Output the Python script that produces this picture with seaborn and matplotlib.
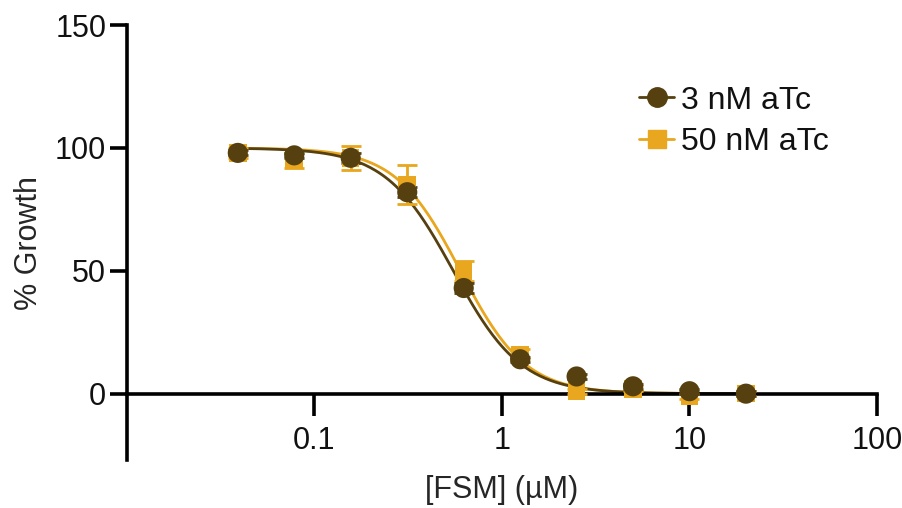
import numpy as np
import pandas as pd
import matplotlib
matplotlib.use("Agg")
import matplotlib.pyplot as plt
from matplotlib.lines import Line2D
import seaborn as sns

# FSM concentrations (uM)
conc = [0.039, 0.078, 0.156, 0.3125, 0.625, 1.25, 2.5, 5, 10, 20]

# % growth, mean and error
growth_3nm = [98, 97, 96, 82, 43, 14, 7, 3, 1, 0]
err_3nm = [1, 1, 2, 2, 2, 1, 1, 1, 1, 1]
growth_50nm = [98, 95, 96, 85, 50, 16, 1, 2, -1, 0]
err_50nm = [2, 3, 5, 8, 4, 2, 1, 1, 1, 1]

# dose-response fit parameters (top, bottom, IC50, hill)
fit_3nm = [100, 0, 0.55, 2.4]
fit_50nm = [100, 0, 0.60, 2.5]

labels = ["3 nM aTc", "50 nM aTc"]
brown = "#56400f"
orange = "#e8a71e"

sns.set_theme(style="white")
plt.rcParams["font.family"] = ["Liberation Sans", "DejaVu Sans"]
plt.rcParams["text.color"] = "#111111"


def fit_curve(params):
    top, bottom, ic50, hill = params
    xs = np.logspace(np.log10(conc[0]), np.log10(conc[-1]), 300)
    ys = bottom + (top - bottom) / (1 + (xs / ic50) ** hill)
    return pd.DataFrame({"x": xs, "y": ys})


fig = plt.figure(figsize=(9.03, 5.08), dpi=100)
ax = fig.add_axes([0.1406, 0.0945, 0.8306, 0.856])

curve50 = fit_curve(fit_50nm)
curve3 = fit_curve(fit_3nm)
sns.lineplot(data=curve50, x="x", y="y", color=orange, lw=2.0, ax=ax, zorder=2)
sns.lineplot(data=curve3, x="x", y="y", color=brown, lw=2.0, ax=ax, zorder=2)

ax.errorbar(conc, growth_50nm, yerr=err_50nm, fmt="none", ecolor=orange,
            elinewidth=2, capsize=7, capthick=2, zorder=3)
ax.errorbar(conc, growth_3nm, yerr=err_3nm, fmt="none", ecolor=brown,
            elinewidth=2, capsize=7, capthick=2, zorder=3)

sns.scatterplot(x=conc, y=growth_50nm, marker="s", s=160, color=orange,
                edgecolor="none", ax=ax, zorder=4)
sns.scatterplot(x=conc, y=growth_3nm, marker="o", s=210, color=brown,
                edgecolor="none", ax=ax, zorder=5)

ax.set_xscale("log")
ax.set_xlim(0.01, 100)
ax.set_ylim(-27, 150)
ax.set_xticks([0.1, 1, 10, 100])
ax.set_xticklabels(["0.1", "1", "10", "100"])
ax.xaxis.set_minor_locator(matplotlib.ticker.NullLocator())
ax.set_yticks([0, 50, 100, 150])

for side in ["top", "right"]:
    ax.spines[side].set_visible(False)
ax.spines["bottom"].set_position(("data", 0))
for side in ["left", "bottom"]:
    ax.spines[side].set_linewidth(2.6)
    ax.spines[side].set_color("black")

ax.tick_params(axis="y", which="major", direction="out", length=12, width=2.6,
               labelsize=22, pad=3, color="black", left=True, labelcolor="#111111")
ax.tick_params(axis="x", which="major", direction="out", length=16, width=2.6,
               labelsize=22, pad=7, color="black", bottom=True, labelcolor="#111111")

ax.set_xlabel("[FSM] (µM)", fontsize=22)
ax.set_ylabel("% Growth", fontsize=22)
ax.xaxis.set_label_coords(0.5, -0.035)
ax.yaxis.set_label_coords(-0.11, 0.5)

handles = [
    Line2D([], [], color=brown, lw=2, marker="o", markersize=14),
    Line2D([], [], color=orange, lw=2, marker="s", markersize=13),
]
ax.legend(handles, labels, loc="upper left", bbox_to_anchor=(0.69, 0.863),
          bbox_transform=fig.transFigure, frameon=False, fontsize=23,
          handlelength=1.1, handletextpad=0.2, labelspacing=0.36, borderpad=0)

fig.savefig("out.png", dpi=100)
